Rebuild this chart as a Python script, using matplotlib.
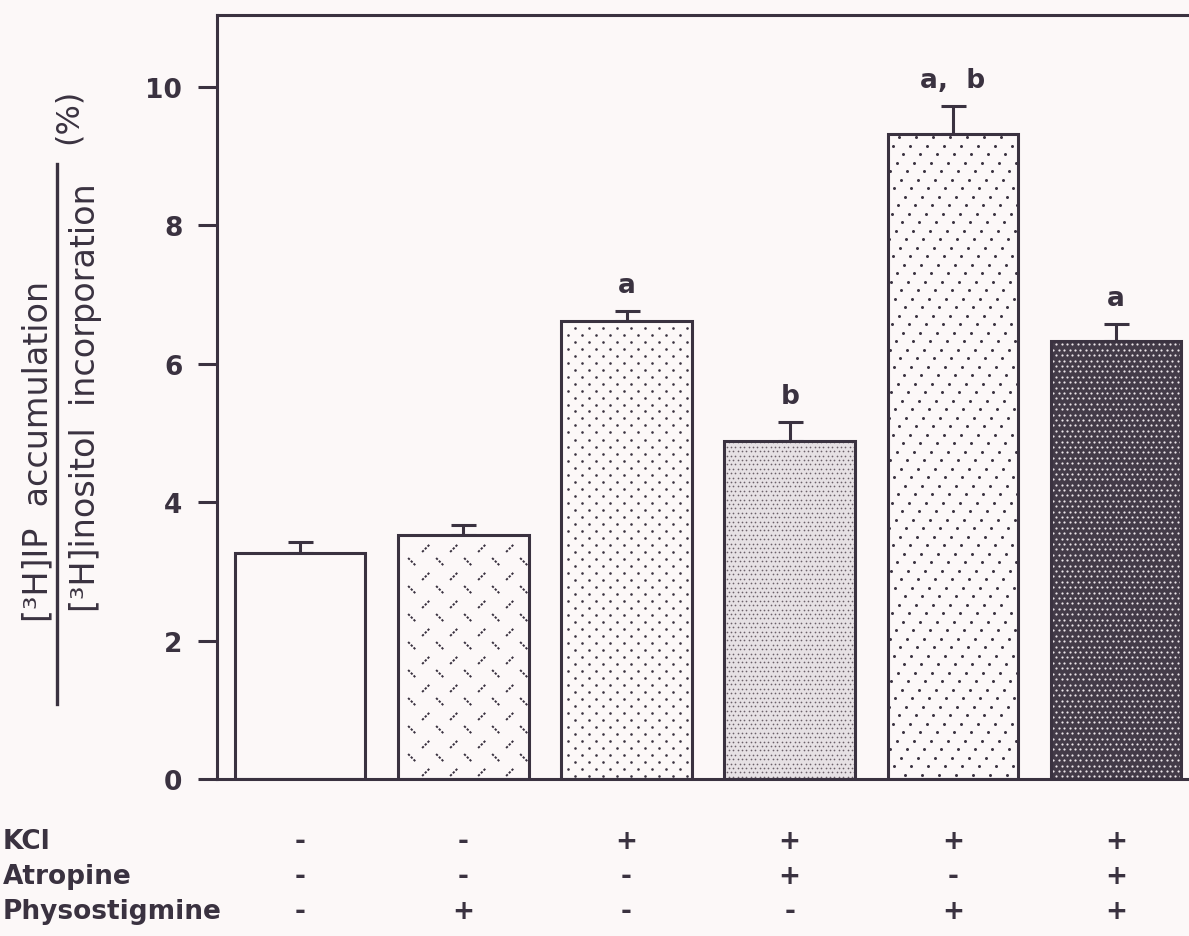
import numpy as np
import matplotlib
matplotlib.use('Agg')
import matplotlib.pyplot as plt
from matplotlib.collections import LineCollection
from matplotlib.transforms import blended_transform_factory

# ---- data ----
values = [3.27, 3.53, 6.62, 4.88, 9.32, 6.33]
errors = [0.15, 0.14, 0.14, 0.28, 0.41, 0.25]
letters = ['', '', 'a', 'b', 'a,  b', 'a']
kcl = ['-', '-', '+', '+', '+', '+']
atropine = ['-', '-', '-', '+', '-', '+']
physo = ['-', '+', '-', '-', '+', '+']
row_labels = ['KCl', 'Atropine', 'Physostigmine']
yticks = [0, 2, 4, 6, 8, 10]

INK = '#3a3240'
BG = '#fcf8f8'

plt.rcParams['font.family'] = ['DejaVu Sans']

W, H = 1189, 937
fig = plt.figure(figsize=(W / 100, H / 100), dpi=100, facecolor=BG)
ax = fig.add_axes([217 / W, 157 / H, (W - 217) / W + 0.01, 764 / H])
ax.set_facecolor(BG)

x = np.arange(len(values))
ax.set_xlim(-0.51, 5.52)
ax.set_ylim(0, 11.04)

for s in ['left', 'top', 'bottom']:
    ax.spines[s].set_color(INK)
    ax.spines[s].set_linewidth(2.2)
ax.spines['right'].set_visible(False)
ax.set_xticks([])
ax.set_yticks(yticks)
ax.set_yticklabels([str(v) for v in yticks], fontsize=19, fontweight='bold', color=INK)
ax.tick_params(axis='y', direction='out', length=14, width=2.2, color=INK, pad=11)

bars = ax.bar(x, values, width=0.8, facecolor=BG, edgecolor='none', zorder=2)
face_cols = [BG, BG, BG, '#e6e1e4', BG, '#433b48']
for b, fc in zip(bars, face_cols):
    b.set_facecolor(fc)

fig.canvas.draw()
p0 = ax.transData.transform((0, 0))
p1 = ax.transData.transform((1, 1))
kx = 1.0 / (p1[0] - p0[0])
ky = 1.0 / (p1[1] - p0[1])


def lattice(b, sx, sy, shift):
    x0, y0 = b.get_x(), b.get_y()
    w, h = b.get_width(), b.get_height()
    wpx, hpx = w / kx, h / ky
    pts = []
    r = 0
    yy = sy / 2
    while yy < hpx:
        off = (r * shift) % sx
        xx = off - sx
        while xx < wpx + sx:
            if 0 < xx < wpx:
                pts.append((x0 + xx * kx, y0 + yy * ky, r))
            xx += sx
        yy += sy
        r += 1
    return np.array(pts)


def dots(b, sx, sy, shift, size_px, color):
    pts = lattice(b, sx, sy, shift)
    sc = ax.scatter(pts[:, 0], pts[:, 1], s=(size_px * 0.72) ** 2, c=color,
                    linewidths=0, zorder=2.5)
    sc.set_clip_path(b)


# bar 2: short dashes alternating orientation by row
b2 = bars[1]
pts = lattice(b2, 28, 14, 14)
segs = []
half = 4.0
for px, py, r in pts:
    sgn = 1 if int(r) % 2 == 0 else -1
    segs.append([(px - half * kx, py - sgn * half * ky), (px + half * kx, py + sgn * half * ky)])
lc = LineCollection(segs, colors=INK, linewidths=1.4, linestyles=(0, (1.2, 0.8)), zorder=2.5)
ax.add_collection(lc)
lc.set_clip_path(b2)

dots(bars[2], 14, 7, 7, 2.6, INK)
dots(bars[3], 4.4, 4.4, 2.2, 1.7, '#6a6068')
dots(bars[4], 17, 8.5, 6.5, 3.0, INK)
dots(bars[5], 5.4, 5.4, 2.7, 2.2, '#ece6ea')

ax.bar(x, values, width=0.8, fill=False, edgecolor=INK, linewidth=2.2, zorder=3)
ax.errorbar(x, values, yerr=[np.zeros(len(errors)), errors], fmt='none', ecolor=INK,
            elinewidth=2.2, capsize=9, capthick=2.2, zorder=1.5)

for xi, v, e, t in zip(x, values, errors, letters):
    if t:
        ax.annotate(t, (xi, v + e), xytext=(0, 13.5), textcoords='offset points',
                    ha='center', va='baseline', fontsize=19, fontweight='bold', color=INK)

# y-axis label (fraction)
fig.text(38 / W, 1 - 622 / H, '[³H]IP  accumulation', rotation=90, ha='center', va='bottom',
         fontsize=24, color=INK)
fig.text(86 / W, 1 - 612 / H, '[³H]inositol  incorporation', rotation=90, ha='center',
         va='bottom', fontsize=24, color=INK)
fig.text(68 / W, 1 - 116 / H, '(%)', rotation=90, ha='center', va='center', fontsize=23,
         color=INK)
fig.add_artist(plt.Line2D([57 / W, 57 / W], [1 - 165 / H, 1 - 705 / H], color=INK, lw=2.4))

# treatment table
tr = blended_transform_factory(ax.transData, fig.transFigure)
rows = [kcl, atropine, physo]
row_y = [1 - 842 / H, 1 - 877 / H, 1 - 912 / H]
for lab, signs, yy in zip(row_labels, rows, row_y):
    fig.text(0.002, yy, lab, ha='left', va='center', fontsize=19, fontweight='bold', color=INK)
    for xi, s in zip(x, signs):
        ax.text(xi, yy, s, transform=tr, ha='center', va='center', fontsize=19,
                fontweight='bold', color=INK, clip_on=False)

fig.savefig('out.png', dpi=100, facecolor=BG)
